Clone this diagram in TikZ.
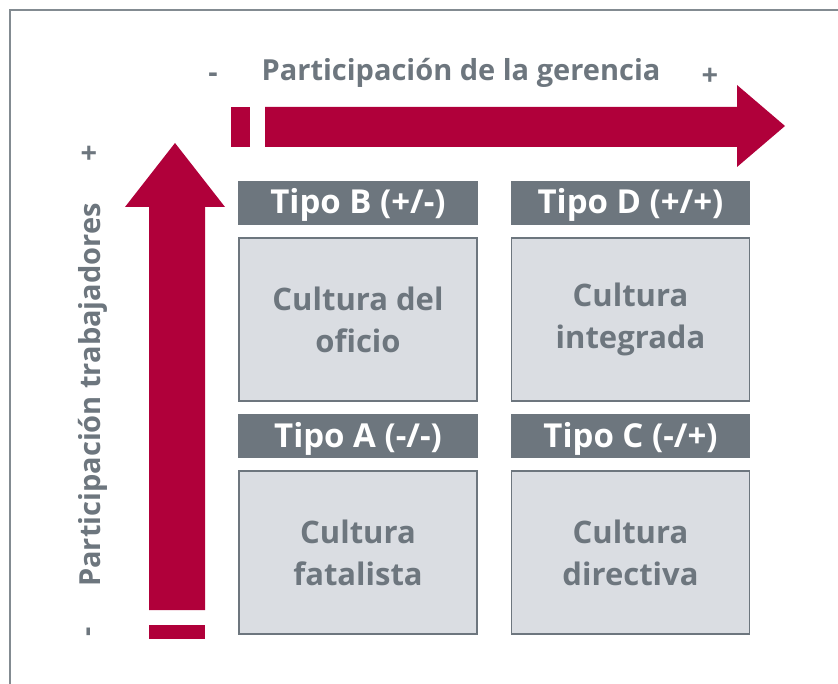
\documentclass[tikz,border=0pt]{standalone}
\usepackage{fontspec}
\setmainfont{Open Sans}[BoldFont={Open Sans Bold}]
\usetikzlibrary{positioning}
\definecolor{wine}{HTML}{B0003A}
\definecolor{slate}{HTML}{6D767E}
\definecolor{mist}{HTML}{DADDE2}

\begin{document}
\begin{tikzpicture}[x=1pt,y=-1pt,
  tipo/.style={fill=slate, text=white, font=\bfseries\fontsize{33}{35}\selectfont,
    minimum width=240pt, minimum height=44pt, inner sep=0pt,
    text height=26pt, text depth=4pt},
  cultura/.style={fill=mist, draw=slate, line width=1.5pt, text=slate,
    font=\bfseries\fontsize{31}{42}\selectfont, align=center,
    minimum width=238pt, minimum height=163pt, inner sep=0pt},
  axis label/.style={text=slate, font=\bfseries\fontsize{29}{31}\selectfont, inner sep=0pt},
  ]
  \useasboundingbox (0,0) rectangle (838,684);
  \draw[line width=2pt, color=slate!85] (10,684) -- (10,10) -- (838,10);
  % arrows
  \fill[wine] (231,107) rectangle (250,147);
  \fill[wine] (265,107) -- (737,107) -- (737,85) -- (785,126) -- (737,167) -- (737,147) -- (265,147) -- cycle;
  \fill[wine] (149,625) rectangle (205,639);
  \fill[wine] (149,610) -- (149,207) -- (125,207) -- (175,143) -- (225,207) -- (205,207) -- (205,610) -- cycle;
  % axis labels
  \node[axis label, anchor=base] (gerencia) at (461,81) {Participación de la gerencia};
  \node[axis label] (gmenos) at (213,78) {-};
  \node[axis label] (gmas) at (710,77) {+};
  \node[axis label, rotate=90, anchor=base] (trab) at (100,395) {Participación trabajadores};
  \node[axis label, rotate=90] (tmas) at (91,153) {+};
  \node[axis label, rotate=90] (tmenos) at (92,632) {-};
  % quadrants
  \node[tipo] (tipoB) at (358,203) {Tipo B (+/-)};
  \node[cultura, below=12pt of tipoB] (cultB) {Cultura del\\oficio};
  \node[tipo] (tipoA) at (358,436) {Tipo A (-/-)};
  \node[cultura, below=12pt of tipoA] (cultA) {Cultura\\fatalista};
  \node[tipo, minimum width=239pt] (tipoD) at (630.5,203) {Tipo D (+/+)};
  \node[cultura, below=12pt of tipoD] (cultD) {Cultura\\integrada};
  \node[tipo, minimum width=239pt] (tipoC) at (630.5,436) {Tipo C (-/+)};
  \node[cultura, below=12pt of tipoC] (cultC) {Cultura\\directiva};
\end{tikzpicture}
\end{document}
